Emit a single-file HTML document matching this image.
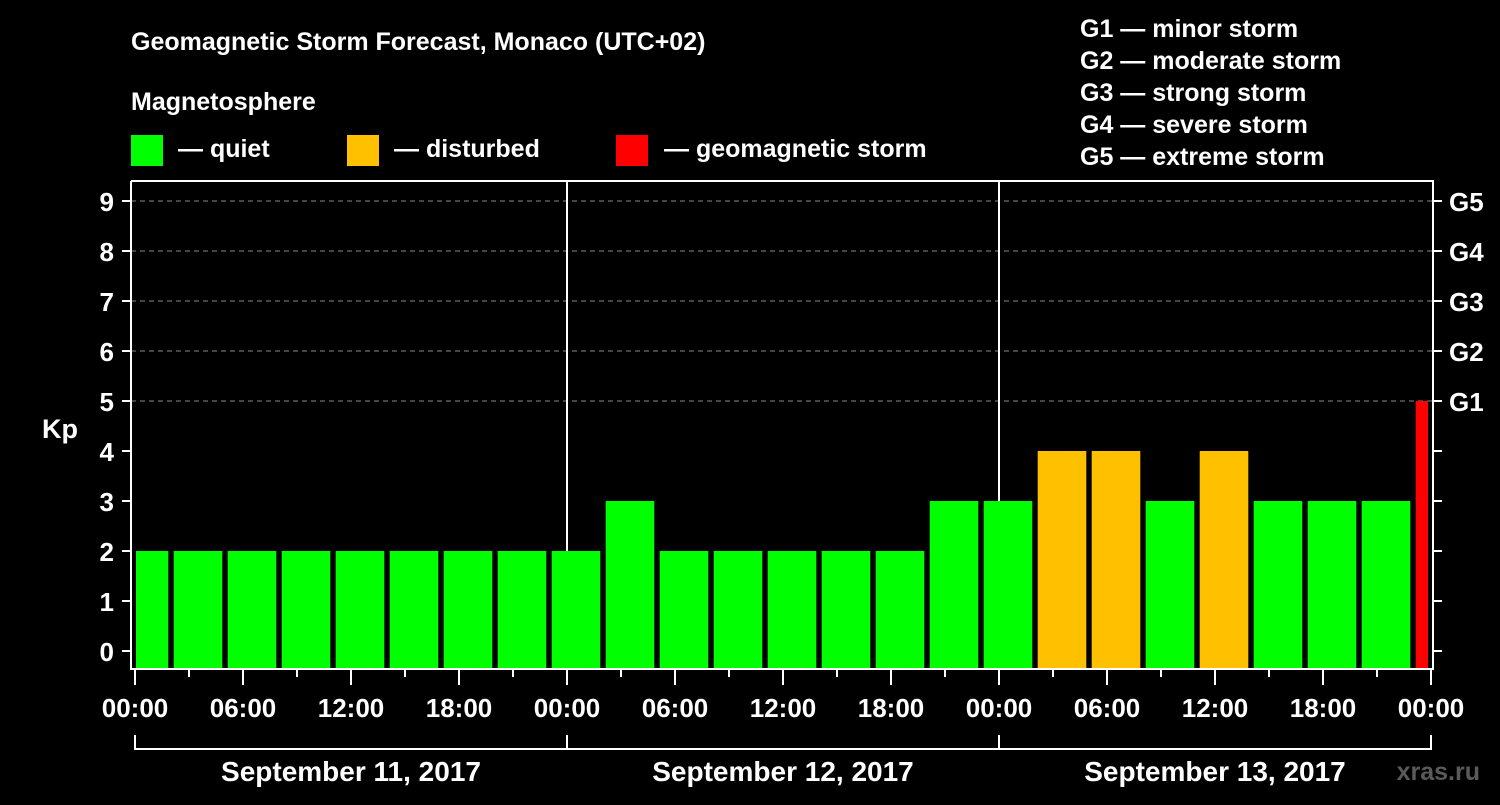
<!DOCTYPE html>
<html><head><meta charset="utf-8"><style>
html,body{margin:0;padding:0;background:#000;}
svg text{font-family:"Liberation Sans",Arial,sans-serif;font-weight:bold;fill:#fff;}
</style></head><body>
<svg width="1500" height="800" viewBox="0 0 1500 800">
<rect width="1500" height="800" fill="#000"/>
<text x="131" y="50" font-size="25">Geomagnetic Storm Forecast, Monaco (UTC+02)</text>
<text x="131" y="110" font-size="25">Magnetosphere</text>
<g><rect x="131" y="135" width="32" height="31" fill="#00ff00"/><text x="178" y="157" font-size="25">— quiet</text></g>
<g><rect x="347" y="135" width="32" height="31" fill="#ffc000"/><text x="394" y="157" font-size="25">— disturbed</text></g>
<g><rect x="616" y="135" width="32" height="31" fill="#ff0000"/><text x="664" y="157" font-size="25">— geomagnetic storm</text></g>
<g font-size="25">
<text x="1080" y="37">G1 — minor storm</text>
<text x="1080" y="69">G2 — moderate storm</text>
<text x="1080" y="101">G3 — strong storm</text>
<text x="1080" y="133">G4 — severe storm</text>
<text x="1080" y="165">G5 — extreme storm</text>
</g>
<text x="42" y="438" font-size="27">Kp</text>
<text x="1480" y="780" font-size="25" text-anchor="end" fill="#555" style="fill:#5a5a5a">xras.ru</text>
<g id="plot"></g>
</svg>
<script>
const kpValues=[2,2,2,2,2,2,2,2,2,3,2,2,2,2,2,3,3,4,4,3,4,3,3,3,5];
const binStartHours=[-1,2,5,8,11,14,17,20,23,26,29,32,35,38,41,44,47,50,53,56,59,62,65,68,71];
const gLabels=["G1","G2","G3","G4","G5"];
const tickLabels=["00:00","06:00","12:00","18:00","00:00","06:00","12:00","18:00","00:00","06:00","12:00","18:00","00:00"];
const dayLabels=["September 11, 2017","September 12, 2017","September 13, 2017"];
const NS="http://www.w3.org/2000/svg";
const g=document.getElementById('plot');
const X=h=>135+h*18;
const Y=k=>651-k*50;
function mk(t,a){const e=document.createElementNS(NS,t);for(const k in a)e.setAttribute(k,a[k]);g.appendChild(e);return e;}
// grid
for(let k=5;k<=9;k++){const l=mk('line',{x1:131,x2:1433,y1:Y(k),y2:Y(k),stroke:'#888','stroke-dasharray':'5,4','stroke-width':1});

}
// day separators
[24,48].forEach(h=>{const l=mk('line',{x1:X(h),x2:X(h),y1:181,y2:669,stroke:'#fff','stroke-width':2});

});
// bars
kpValues.forEach((v,i)=>{
const s=Math.max(0,binStartHours[i]),e=Math.min(72,binStartHours[i]+3);
const x1=X(s)+(binStartHours[i]<0?1:2.7),x2=X(e)-(binStartHours[i]+3>72?3:2.7);
const c=v>=5?'#ff0000':v>=4?'#ffc000':'#00ff00';
const r=mk('rect',{x:x1,y:Y(v),width:x2-x1,height:668-Y(v),fill:c});

});
// axes
const ax=mk('path',{d:'M131,181 L131,669 L1433,669 L1433,181 L131,181',fill:'none',stroke:'#fff','stroke-width':2});


for(let k=0;k<=9;k++){
mk('line',{x1:122,x2:131,y1:Y(k),y2:Y(k),stroke:'#fff','stroke-width':2});
mk('line',{x1:1433,x2:1442,y1:Y(k),y2:Y(k),stroke:'#fff','stroke-width':2});
const t=mk('text',{x:114,y:Y(k)+10,'font-size':26,'text-anchor':'end'});t.textContent=k;

}
gLabels.forEach((s,i)=>{const t=mk('text',{x:1449,y:Y(5+i)+10,'font-size':26});t.textContent=s;

});
for(let h=0;h<=72;h+=3){mk('line',{x1:X(h),x2:X(h),y1:669,y2:h%6==0?685:677,stroke:'#fff','stroke-width':2});}
tickLabels.forEach((s,i)=>{const t=mk('text',{x:X(i*6),y:717,'font-size':26,'text-anchor':'middle'});t.textContent=s;

});
mk('path',{d:`M${X(0)},735 L${X(0)},749 L${X(72)},749 L${X(72)},735 M${X(24)},735 L${X(24)},749 M${X(48)},735 L${X(48)},749`,fill:'none',stroke:'#fff','stroke-width':2});
dayLabels.forEach((s,i)=>{const t=mk('text',{x:X(i*24+12),y:781,'font-size':28,'text-anchor':'middle'});t.textContent=s;

});
</script>
</body></html>
